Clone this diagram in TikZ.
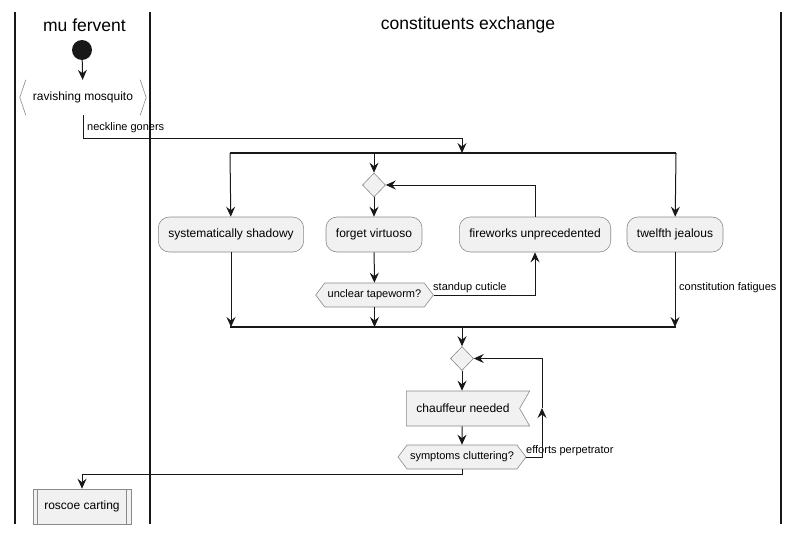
\documentclass[tikz,border=0pt]{standalone}
\usepackage{fontspec}
\setmainfont{Liberation Sans}
\usetikzlibrary{arrows.meta,shapes.geometric,shapes.symbols}
\definecolor{actfill}{HTML}{F1F1F1}
\definecolor{actline}{HTML}{181818}
\definecolor{actedge}{HTML}{8A8A8A}
\tikzset{
    %Define standard arrow tip
    >={Stealth[length=10pt,width=9pt,inset=3.5pt]},
    %Define style for activity boxes
    act/.style={
           rectangle,
           rounded corners=11pt,
           draw=actedge, fill=actfill,
           line width=0.6pt,
           minimum height=35pt,
           inner xsep=10pt,
           font=\fontsize{12}{14}\selectfont},
    % Define style for decisions
    ask/.style={
           signal, signal to=west and east,
           signal pointer angle=106,
           draw=actedge, fill=actfill,
           line width=0.6pt,
           minimum height=24pt,
           inner xsep=3pt,
           font=\fontsize{11}{13}\selectfont},
    merge/.style={
           diamond,
           draw=actedge, fill=actfill,
           line width=0.6pt,
           inner sep=0pt,
           minimum width=23pt, minimum height=24pt},
    % Define label style
    lbl/.style={font=\fontsize{11}{13}\selectfont, inner sep=1pt},
    lane/.style={line width=1.5pt, actline},
    title/.style={font=\fontsize{17.5}{20}\selectfont},
    % Define arrow style
    pil/.style={
           ->,
           actline,
           line width=1pt},
    bar/.style={actline, line width=1.5pt}
}

\begin{document}
\begin{tikzpicture}[x=1pt,y=1pt]
\useasboundingbox (0,0) rectangle (799,-535);
% swimlanes
\draw[lane] (15,-12) -- (15,-524);
\draw[lane] (150,-12) -- (150,-524);
\draw[lane] (781,-12) -- (781,-524);
\node[title] (lane1) at (84.5,-25) {mu fervent};
\node[title] (lane2) at (468,-25) {constituents exchange};

\node[circle, fill=actline, minimum size=20pt, inner sep=0pt] (start) at (82,-50) {};
\node[minimum width=126pt, minimum height=35pt, inner sep=0pt,
      font=\fontsize{12}{14}\selectfont] (ravish) at (83,-97.5) {ravishing mosquito};
\draw[actedge, line width=0.6pt] ([xshift=6pt]ravish.north west) -- (ravish.west) -- ([xshift=6pt]ravish.south west);
\draw[actedge, line width=0.6pt] ([xshift=-6pt]ravish.north east) -- (ravish.east) -- ([xshift=-6pt]ravish.south east);

\coordinate (neck) at (462,-138);
\coordinate (forkL) at (230,-153);
\coordinate (forkR) at (676,-153);
\coordinate (forkT) at (462,-153);

\node[merge] (dia1) at (374,-185) {};
\node[act] (shadowy) at (231,-234.5) {systematically shadowy};
\node[act] (forget) at (374,-234.5) {forget virtuoso};
\node[act] (fireworks) at (535,-234.5) {fireworks unprecedented};
\node[act] (twelfth) at (675,-234.5) {twelfth jealous};
\node[ask] (tape) at (374.5,-295) {unclear tapeworm?};

\coordinate (joinL) at (230,-327);
\coordinate (joinR) at (676,-327);

\node[merge] (dia2) at (462,-358.5) {};
\node[signal, signal to=nowhere, signal from=east, signal pointer angle=120,
      draw=actedge, fill=actfill, line width=0.6pt,
      minimum height=35pt, inner xsep=10pt,
      font=\fontsize{12}{14}\selectfont] (chauffeur) at (463,-408.5) {chauffeur needed};
\node[ask] (symptoms) at (462,-457) {symptoms cluttering?};

\coordinate (backB) at (542,-457);
\coordinate (backM) at (542,-408);
\coordinate (backT) at (542,-358.5);
\coordinate (exit) at (82,-474);

\node[rectangle, draw=actedge, fill=actfill, line width=0.6pt,
      minimum width=98pt, minimum height=35pt,
      font=\fontsize{12}{14}\selectfont] (roscoe) at (82,-506.5) {roscoe carting};
\draw[actedge, line width=0.6pt] ([xshift=5pt]roscoe.north west) -- ([xshift=5pt]roscoe.south west);
\draw[actedge, line width=0.6pt] ([xshift=-5pt]roscoe.north east) -- ([xshift=-5pt]roscoe.south east);

% labels
\node[lbl, anchor=west] (lneck) at (86,-128) {neckline goners};
\node[lbl, anchor=west] (lstand) at (432,-288) {standup cuticle};
\node[lbl, anchor=west] (lconst) at (678,-288) {constitution fatigues};
\node[lbl, anchor=west] (leff) at (525,-451) {efforts perpetrator};

% bars
\draw[bar] (forkL) -- (forkR);
\draw[bar] (joinL) -- (joinR);

\path[pil]  (start) edge (ravish)
            (forkL) edge (shadowy)
            (forkR) edge (twelfth)
            (dia1 |- forkL) edge (dia1)
            (dia1) edge (forget)
            (forget) edge (tape)
            (shadowy) edge (shadowy |- joinL)
            (tape) edge (tape |- joinL)
            (twelfth) edge (twelfth |- joinL)
            (dia2 |- joinL) edge (dia2)
            (dia2) edge (dia2 |- chauffeur.north)
            (dia2 |- chauffeur.south) edge (symptoms);
\draw[pil] (ravish.south) |- (neck) -- (forkT);
\draw[pil] (tape.east) -| (fireworks.south);
\draw[pil] (fireworks.north) |- (dia1.east);
\draw[pil] (symptoms.east) -- (backB) -- (backM);
\draw[pil] (backM) -- (backT) -- (dia2.east);
\draw[pil] (symptoms.south) |- (exit) -- (roscoe.north);
\end{tikzpicture}
\end{document}
